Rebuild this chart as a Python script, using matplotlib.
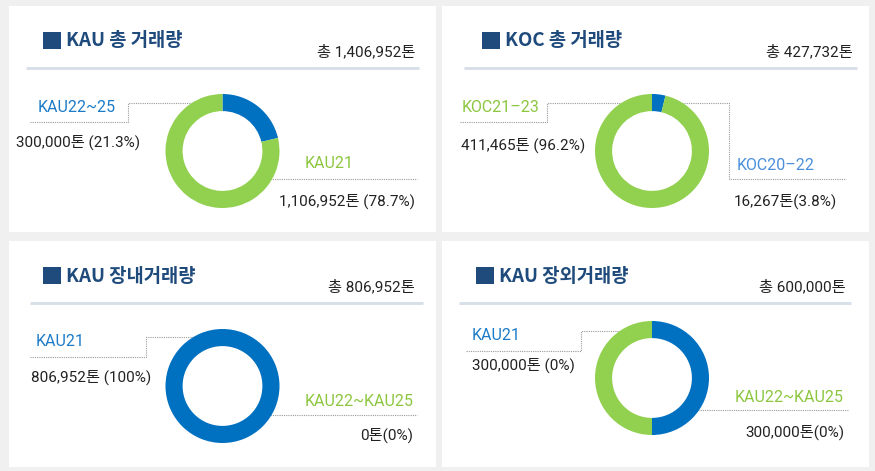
import matplotlib
matplotlib.use("Agg")
import matplotlib.pyplot as plt
from matplotlib import font_manager
from matplotlib.patches import Rectangle

# ---------------- data ----------------
titles = ["KAU 총 거래량", "KOC 총 거래량", "KAU 장내거래량", "KAU 장외거래량"]
totals = ["총 1,406,952톤", "총 427,732톤", "총 806,952톤", "총 600,000톤"]

# slices in clockwise order from 12 o'clock: (first = blue, second = green)
p1_values = [300000, 1106952]
p2_values = [16267, 411465]
p3_values = [806952, 0]
p4_values = [300000, 300000]

left_names = ["KAU22~25", "KOC21–23", "KAU21", "KAU21"]
left_texts = ["300,000톤 (21.3%)", "411,465톤 (96.2%)", "806,952톤 (100%)", "300,000톤 (0%)"]
right_names = ["KAU21", "KOC20–22", "KAU22~KAU25", "KAU22~KAU25"]
right_texts = ["1,106,952톤 (78.7%)", "16,267톤(3.8%)", "0톤(0%)", "300,000톤(0%)"]

# ---------------- style ----------------
BLUE = "#0070c0"
GREEN = "#92d050"
LBL_BLUE = "#1b7bc8"
LBL_BLUE2 = "#4a8fdc"
LBL_GREEN = "#8cc63f"
TITLE_C = "#1f4a7c"
BG = "#f0f0f0"
RULE = "#d6dee9"
LEADER = "#9a9a9a"
TXT = "#222222"

names = {f.name for f in font_manager.fontManager.ttflist}
narrow = "Liberation Sans Narrow" if "Liberation Sans Narrow" in names else "Roboto"
LFAM = [narrow, "Noto Sans CJK KR"]
TFAM = ["Noto Sans CJK KR", "DejaVu Sans"]
LW = "normal"

W, H = 875, 471
fig = plt.figure(figsize=(W / 100, H / 100), dpi=100)
fig.patch.set_facecolor(BG)
bg = fig.add_axes([0, 0, 1, 1])
bg.set_xlim(0, W)
bg.set_ylim(H, 0)
bg.axis("off")

# layout (pixel coordinates)
panels = [(9, 6, 427, 226), (442, 6, 427, 226), (9, 241, 427, 226), (442, 241, 427, 226)]
squares = [(43, 32), (482, 32), (43, 267), (476, 267)]
title_pos = [(66, 41), (505, 41), (66, 276), (499, 276)]
total_pos = [(415, 52), (853, 52), (415, 287), (846, 287)]
rules = [(26, 419, 68), (464, 857, 68), (30, 423, 303), (459, 851, 303)]
centers = [(222.5, 151), (652, 151), (222.5, 386), (652, 378)]
R = 57
left_lines = [
    [(30, 122), (128, 122), (128, 103), (223, 103)],
    [(460, 122), (547, 122), (547, 103), (635, 103)],
    [(30, 357), (146, 357), (146, 337), (217, 337)],
    [(466, 351), (581, 351), (581, 331), (653, 331)],
]
right_lines = [
    [(259, 179), (417, 179)],
    [(664, 103), (729, 103), (729, 179), (846, 179)],
    [(259, 415), (417, 415)],
    [(689, 410), (848, 410)],
]
left_name_pos = [(38, 107), (462, 107), (36, 342), (472, 335)]
left_text_pos = [(16, 142), (461, 145), (31, 377), (472, 365)]
right_name_pos = [(305, 164), (737, 166), (305, 401), (735, 397)]
right_text_pos = [(415, 201, "right"), (734, 201, "left"), (413, 435, "right"), (844, 432, "right")]
left_colors = [LBL_BLUE, LBL_GREEN, LBL_BLUE, LBL_BLUE]
right_colors = [LBL_GREEN, LBL_BLUE2, LBL_GREEN, LBL_GREEN]

all_values = [p1_values, p2_values, p3_values, p4_values]

for i in range(4):
    x0, y0, w, h = panels[i]
    bg.add_patch(Rectangle((x0, y0), w, h, facecolor="white", edgecolor="none", zorder=0))
    sx, sy = squares[i]
    bg.add_patch(Rectangle((sx, sy), 18, 17, facecolor=TITLE_C, edgecolor="none", zorder=1))
    bg.text(*title_pos[i], titles[i], family=TFAM, fontsize=13.5, fontweight="bold",
            color=TITLE_C, ha="left", va="center")
    bg.text(*total_pos[i], totals[i], family=LFAM, fontsize=11, fontweight=LW,
            color=TXT, ha="right", va="center")
    rx0, rx1, ry = rules[i]
    bg.plot([rx0, rx1], [ry, ry], color=RULE, lw=2, solid_capstyle="butt")

    for pts in (left_lines[i], right_lines[i]):
        xs = [p[0] for p in pts]
        ys = [p[1] for p in pts]
        bg.plot(xs, ys, color=LEADER, lw=0.8, ls=(0, (1, 1)), zorder=5)

    bg.text(*left_name_pos[i], left_names[i], family=LFAM, fontsize=11.5, fontweight=LW,
            color=left_colors[i], ha="left", va="center")
    bg.text(*left_text_pos[i], left_texts[i], family=LFAM, fontsize=11, fontweight=LW,
            color=TXT, ha="left", va="center")
    bg.text(*right_name_pos[i], right_names[i], family=LFAM, fontsize=11.5, fontweight=LW,
            color=right_colors[i], ha="left", va="center")
    tx, ty, tha = right_text_pos[i]
    bg.text(tx, ty, right_texts[i], family=LFAM, fontsize=11, fontweight=LW,
            color=TXT, ha=tha, va="center")

    cx, cy = centers[i]
    ax = fig.add_axes([(cx - R) / W, 1 - (cy + R) / H, 2 * R / W, 2 * R / H])
    ax.pie(all_values[i], colors=[BLUE, GREEN], startangle=90, counterclock=False,
           radius=1, wedgeprops=dict(width=0.3, edgecolor="none"))
    ax.set_xlim(-1, 1)
    ax.set_ylim(-1, 1)
    ax.set_aspect("equal")
    ax.axis("off")
    ax.set_zorder(2)

fig.savefig("out.png", dpi=100, facecolor=BG)
